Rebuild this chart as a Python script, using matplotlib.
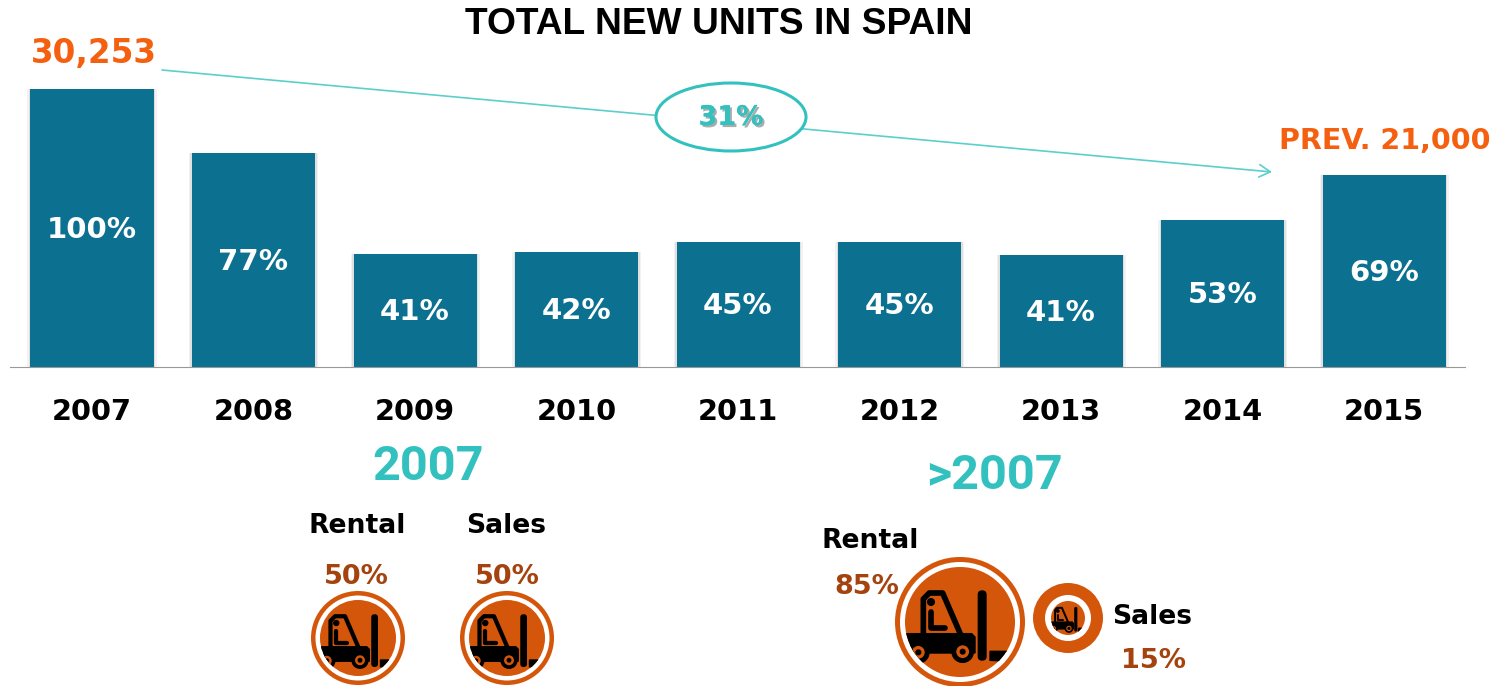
import numpy as np
import matplotlib
matplotlib.use('Agg')
import matplotlib.pyplot as plt
import matplotlib.patheffects as pe
from matplotlib.patches import Circle, Ellipse, FancyBboxPatch, Polygon

#datos
years = ['2007', '2008', '2009', '2010', '2011', '2012', '2013', '2014', '2015']
share = [100, 77, 40.7, 41.4, 45, 45, 40.3, 52.9, 69]
share_labels = ['100%', '77%', '41%', '42%', '45%', '45%', '41%', '53%', '69%']

BAR = '#0C7191'
TEAL = '#33C1BF'
ORANGE = '#F4600F'
BROWN = '#A5430F'
DISK = '#D4560B'
W, H = 1501, 686

fig = plt.figure(figsize=(W/100, H/100), dpi=100)

#%% barras
ax = fig.add_axes([10/W, (H-367)/H, 1455/W, 278/H])
# sombra suave detras de cada barra
ax.bar(range(9), share, width=129/161.5, color='#000000', alpha=0.05)
ax.bar(range(9), share, width=126/161.5, color='#000000', alpha=0.07)
ax.bar(range(9), share, width=123/161.5, color=BAR)
for i in range(9):
    ax.text(i, share[i]/2 - 0.6, share_labels[i], color='white', ha='center', va='center',
            fontsize=21, fontweight='bold', family='DejaVu Sans')
ax.set_xlim(-82/161.5, 1373/161.5)
ax.set_ylim(0, 100)
ax.set_xticks(range(9))
ax.set_xticklabels(years, fontsize=20.8, fontweight='bold', family='DejaVu Sans')
ax.tick_params(axis='x', length=0, pad=22)
ax.set_yticks([])
for s in ['top', 'left', 'right']:
    ax.spines[s].set_visible(False)
ax.spines['bottom'].set_color('#999999')
ax.patch.set_alpha(0)

#%% capa de anotaciones en pixeles
ov = fig.add_axes([0, 0, 1, 1], zorder=5)
ov.set_xlim(0, W)
ov.set_ylim(H, 0)
ov.axis('off')


def forklift(ov, cx, cy, r, k):
    # r = radio del disco interior, k = escala del dibujo, clipeado al disco
    clip = Circle((cx, cy), r, transform=ov.transData)
    lw = 17*k*0.72
    def P(x, y):
        return cx + (x-450)*k, cy + (y-547)*k
    items = []
    # cabina
    xs, ys = zip(*[P(340, 582), P(340, 478), P(358, 460), P(398, 460), P(452, 585)])
    items += ov.plot(xs, ys, color='black', lw=lw, solid_joinstyle='round')
    # persona
    items.append(ov.add_patch(Circle(P(363, 487), 10*k, color='black')))
    xs, ys = zip(*[P(363, 518), P(363, 565), P(405, 565)])
    items += ov.plot(xs, ys, color='black', lw=lw, solid_capstyle='round')
    # carroceria
    items.append(ov.add_patch(Polygon([P(280, 582), P(485, 582), P(495, 592), P(495, 640),
                                       P(280, 640)], color='black')))
    # ruedas
    for x, y in [(325, 638), (458, 636)]:
        items.append(ov.add_patch(Circle(P(x, y), 32*k, color='black')))
        items.append(ov.add_patch(Circle(P(x, y), 17*k, color=DISK)))
        items.append(ov.add_patch(Circle(P(x, y), 7*k, color='black')))
    # mastil
    x0, y0 = P(503, 452)
    items.append(ov.add_patch(FancyBboxPatch((x0 + 13*k, y0 + 13*k), 1*k, 185*k,
                                             boxstyle='round,pad=%f' % (13*k), color='black', lw=0)))
    # horquilla
    items.append(ov.add_patch(Polygon([P(540, 635), P(600, 635), P(600, 665), P(540, 662)], color='black')))
    for it in items:
        it.set_clip_path(clip)


def badge(ov, cx, cy, r_out, r_white, r_in, k):
    ov.add_patch(Circle((cx, cy), r_out, color=DISK, lw=0))
    ov.add_patch(Circle((cx, cy), r_white, color='white', lw=0))
    ov.add_patch(Circle((cx, cy), r_in, color=DISK, lw=0))
    forklift(ov, cx, cy, r_in, k)


badge(ov, 358, 638, 47, 42.5, 38, 0.25)
badge(ov, 507, 638, 47, 42.5, 38, 0.25)
badge(ov, 960, 622, 65, 60, 55, 1/3)
badge(ov, 1068, 618, 35, 23, 17, 0.117)

#%% flecha y elipse
ov.annotate('', xy=(1272, 172), xytext=(162, 70),
            arrowprops=dict(arrowstyle='->,head_length=0.8,head_width=0.45', color='#5CCFCB', lw=1.2,
                            shrinkA=0, shrinkB=0))
ov.add_patch(Ellipse((731, 117), 150, 68, fc='white', ec=TEAL, lw=2.2, zorder=3))
ov.text(731, 118, '31%', color=TEAL, ha='center', va='center', fontsize=19.5, fontweight='bold', zorder=4,
        path_effects=[pe.withSimplePatchShadow(offset=(1.5, -1.5), shadow_rgbFace='#888888', alpha=0.7), pe.Normal()])

#%% textos
ov.text(719, 24, 'TOTAL NEW UNITS IN SPAIN', fontsize=26.7, fontweight='bold', family='Liberation Sans',
        ha='center', va='center', color='black')
ov.text(94, 53, '30,253', fontsize=23.5, fontweight='bold', color=ORANGE, ha='center', va='center')
ov.text(1385, 141, 'PREV. 21,000', fontsize=20.5, fontweight='bold', color=ORANGE, ha='center', va='center')
ov.text(428, 467, '2007', fontsize=35, fontweight='bold', family='Roboto', color=TEAL, ha='center', va='center')
ov.text(994, 476, '>2007', fontsize=35, fontweight='bold', family='Roboto', color=TEAL, ha='center', va='center')

for x, y, s in [(357, 526, 'Rental'), (506, 526, 'Sales'), (870, 541, 'Rental'), (1152, 617, 'Sales')]:
    ov.text(x, y, s, fontsize=19.2, fontweight='bold', color='black', ha='center', va='center')
for x, y, s in [(356, 577, '50%'), (507, 577, '50%'), (867, 587, '85%'), (1153, 661, '15%')]:
    ov.text(x, y, s, fontsize=19.5, fontweight='bold', color=BROWN, ha='center', va='center')

fig.savefig('out.png', dpi=100)
